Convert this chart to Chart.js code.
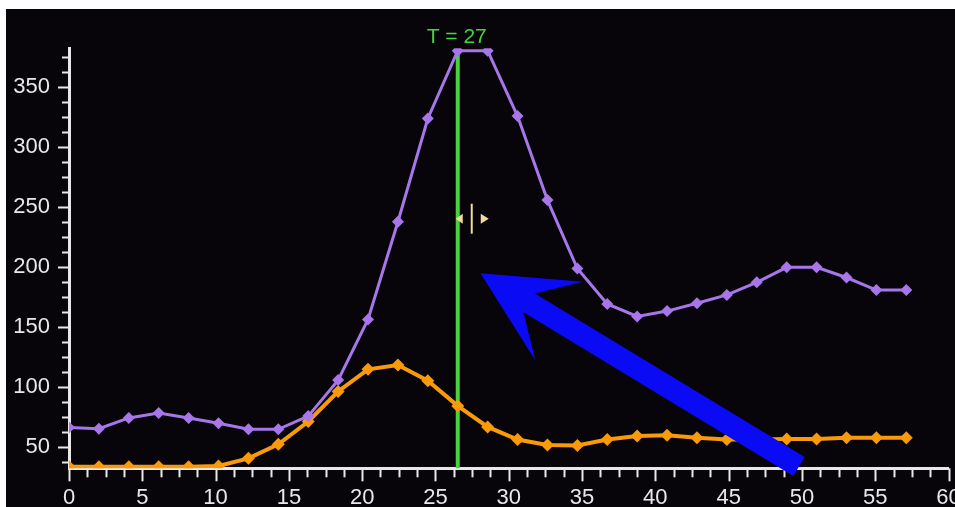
<!DOCTYPE html>
<html>
<head>
<meta charset="utf-8">
<script src="https://cdn.jsdelivr.net/npm/chart.js@4.4.1/dist/chart.umd.min.js"></script>
<style>
  html, body { margin: 0; padding: 0; background: #ffffff; overflow: hidden; }
  #wrap { position: absolute; left: 6px; top: 9px; width: 949px; height: 498px; background: #07040a; }
  canvas { display: block; }
</style>
</head>
<body>
<div id="wrap"><canvas id="c" width="949" height="498"></canvas></div>
<script>
// Sample times (s)
const times = [0, 2.04, 4.08, 6.12, 8.16, 10.2, 12.24, 14.28, 16.32, 18.36,
               20.4, 22.44, 24.48, 26.52, 28.56, 30.6, 32.64, 34.68, 36.72, 38.76,
               40.8, 42.84, 44.88, 46.92, 48.96, 51, 53.04, 55.08, 57.12];

// Upper curve (purple)
const purpleValues = [66, 65, 74, 78, 74, 69.5, 64.5, 64.5, 75.5, 105.5,
                      156, 237.5, 323.5, 380, 380, 325.5, 255.5, 198.5, 169, 158.5,
                      163, 169.5, 176.5, 187, 199.5, 199.5, 191, 180.5, 180.5];

// Lower curve (orange)
const orangeValues = [33.3, 33.3, 33.3, 33.3, 33.3, 34, 40.3, 52, 71, 96,
                      114.5, 118, 105, 84, 66.5, 56, 51.5, 51, 56, 59,
                      59.5, 57.5, 56, 56, 56.5, 56.5, 57.5, 57.5, 57.5];

// Axis ranges and tick spacing
const xRange = [0, 60];
const yRange = [32, 382];
const xMinorStep = 1.25, xMajorStep = 5;
const yMinorStep = 12.5, yMajorStep = 50;

// Time cursor
const cursorTime = 26.52;
const cursorIconY = 240;

// Pointer arrow (tip and tail, data coordinates)
const arrowTip = [28.07, 194.5];
const arrowTail = [49.8, 33.5];

const AXIS_COLOR = '#e8e8e8';
const LABEL_FONT = { family: "'Liberation Sans', Arial, sans-serif", size: 22 };

const isMult = (v, step) => Math.abs(v / step - Math.round(v / step)) < 1e-6;

// ticks at every multiple of the minor step inside the range
const stepTicks = (lo, hi, step) => {
  const out = [];
  for (let k = Math.ceil(lo / step - 1e-9); k * step <= hi + 1e-9; k++) out.push({ value: k * step });
  return out;
};

const overlays = {
  id: 'overlays',
  beforeDatasetsDraw(chart) {
    const { ctx, chartArea, scales: { x } } = chart;
    const px = x.getPixelForValue(cursorTime);
    ctx.save();
    ctx.strokeStyle = '#46d43c';
    ctx.lineWidth = 4;
    ctx.beginPath();
    ctx.moveTo(px, chartArea.top + 2);
    ctx.lineTo(px, chartArea.bottom);
    ctx.stroke();
    ctx.restore();
  },
  afterDraw(chart) {
    const { ctx, chartArea, scales: { x, y } } = chart;
    ctx.save();

    // minor and major tick marks
    ctx.strokeStyle = AXIS_COLOR;
    ctx.lineWidth = 2;
    x.ticks.forEach(t => {
      const p = Math.round(x.getPixelForValue(t.value)) + 0.5;
      const len = isMult(t.value, xMajorStep) ? 13 : 9;
      ctx.beginPath();
      ctx.moveTo(p, chartArea.bottom);
      ctx.lineTo(p, chartArea.bottom + len);
      ctx.stroke();
    });
    y.ticks.forEach(t => {
      const p = Math.round(y.getPixelForValue(t.value)) + 0.5;
      const len = isMult(t.value, yMajorStep) ? 11 : 7;
      ctx.beginPath();
      ctx.moveTo(chartArea.left - len, p);
      ctx.lineTo(chartArea.left, p);
      ctx.stroke();
    });

    // cursor label
    const cx = x.getPixelForValue(cursorTime);
    ctx.fillStyle = '#46d43c';
    ctx.font = "21px 'Liberation Sans', Arial, sans-serif";
    ctx.textAlign = 'center';
    ctx.textBaseline = 'alphabetic';
    ctx.fillText('T = ' + Math.round(cursorTime), cx - 1, 34);

    // drag handle next to the cursor
    const iy = y.getPixelForValue(cursorIconY);
    ctx.fillStyle = '#f0dc96';
    ctx.strokeStyle = '#f0dc96';
    ctx.beginPath();
    ctx.moveTo(cx - 2, iy);
    ctx.lineTo(cx + 5, iy - 5);
    ctx.lineTo(cx + 5, iy + 5);
    ctx.closePath();
    ctx.fill();
    ctx.beginPath();
    ctx.moveTo(cx + 23, iy - 5);
    ctx.lineTo(cx + 31, iy);
    ctx.lineTo(cx + 23, iy + 5);
    ctx.closePath();
    ctx.fill();
    ctx.lineWidth = 2;
    ctx.beginPath();
    ctx.moveTo(cx + 14, iy - 15);
    ctx.lineTo(cx + 14, iy + 15);
    ctx.stroke();

    // pointer arrow
    const tx = x.getPixelForValue(arrowTip[0]), ty = y.getPixelForValue(arrowTip[1]);
    const bx = x.getPixelForValue(arrowTail[0]), by = y.getPixelForValue(arrowTail[1]);
    const L = Math.hypot(bx - tx, by - ty);
    const ux = (bx - tx) / L, uy = (by - ty) / L;   // from tip toward tail
    const nx = -uy, ny = ux;                         // perpendicular
    const pt = (along, side) => [tx + ux * along + nx * side, ty + uy * along + ny * side];
    const poly = [
      pt(0, 0), pt(92, 46), pt(57, 11), pt(L, 11),
      pt(L, -11), pt(57, -11), pt(92, -46)
    ];
    ctx.fillStyle = '#0a0af5';
    ctx.beginPath();
    poly.forEach(([a, b], i) => i ? ctx.lineTo(a, b) : ctx.moveTo(a, b));
    ctx.closePath();
    ctx.fill();

    ctx.restore();
  }
};

new Chart(document.getElementById('c'), {
  type: 'line',
  data: {
    datasets: [
      {
        data: times.map((t, i) => ({ x: t, y: purpleValues[i] })),
        borderColor: '#a676ea',
        backgroundColor: '#a676ea',
        borderWidth: 3,
        pointStyle: 'rectRot',
        pointRadius: 6,
        pointBorderWidth: 0,
        tension: 0
      },
      {
        data: times.map((t, i) => ({ x: t, y: orangeValues[i] })),
        borderColor: '#f99a0a',
        backgroundColor: '#f99a0a',
        borderWidth: 4,
        pointStyle: 'rectRot',
        pointRadius: 6.5,
        pointBorderWidth: 0,
        tension: 0
      }
    ]
  },
  options: {
    responsive: false,
    animation: false,
    events: [],
    layout: { padding: { top: 39.3, right: 1.6, left: 0, bottom: 0 } },
    plugins: { legend: { display: false }, tooltip: { enabled: false } },
    scales: {
      x: {
        type: 'linear',
        min: xRange[0], max: xRange[1],
        border: { display: true, color: AXIS_COLOR, width: 3 },
        grid: { display: true, drawOnChartArea: false, drawTicks: true, tickLength: 12, tickColor: 'rgba(0,0,0,0)' },
        afterBuildTicks: s => { s.ticks = stepTicks(xRange[0], xRange[1], xMinorStep); },
        ticks: {
          autoSkip: false,
          maxRotation: 0,
          padding: 4,
          color: AXIS_COLOR,
          font: LABEL_FONT,
          callback: v => isMult(v, xMajorStep) ? String(Math.round(v)) : ''
        },
        afterFit: s => { s.height = 38.7; s.paddingLeft = 0; s.paddingRight = 0; }
      },
      y: {
        type: 'linear',
        min: yRange[0], max: yRange[1],
        border: { display: true, color: AXIS_COLOR, width: 3 },
        grid: { display: true, drawOnChartArea: false, drawTicks: true, tickLength: 11, tickColor: 'rgba(0,0,0,0)' },
        afterBuildTicks: s => { s.ticks = stepTicks(yRange[0], yRange[1], yMinorStep); },
        ticks: {
          autoSkip: false,
          padding: 8,
          color: AXIS_COLOR,
          font: LABEL_FONT,
          callback: v => isMult(v, yMajorStep) ? String(Math.round(v)) : ''
        },
        afterFit: s => { s.width = 63; s.paddingTop = 0; s.paddingBottom = 0; }
      }
    }
  },
  plugins: [overlays]
});
</script>
</body>
</html>
